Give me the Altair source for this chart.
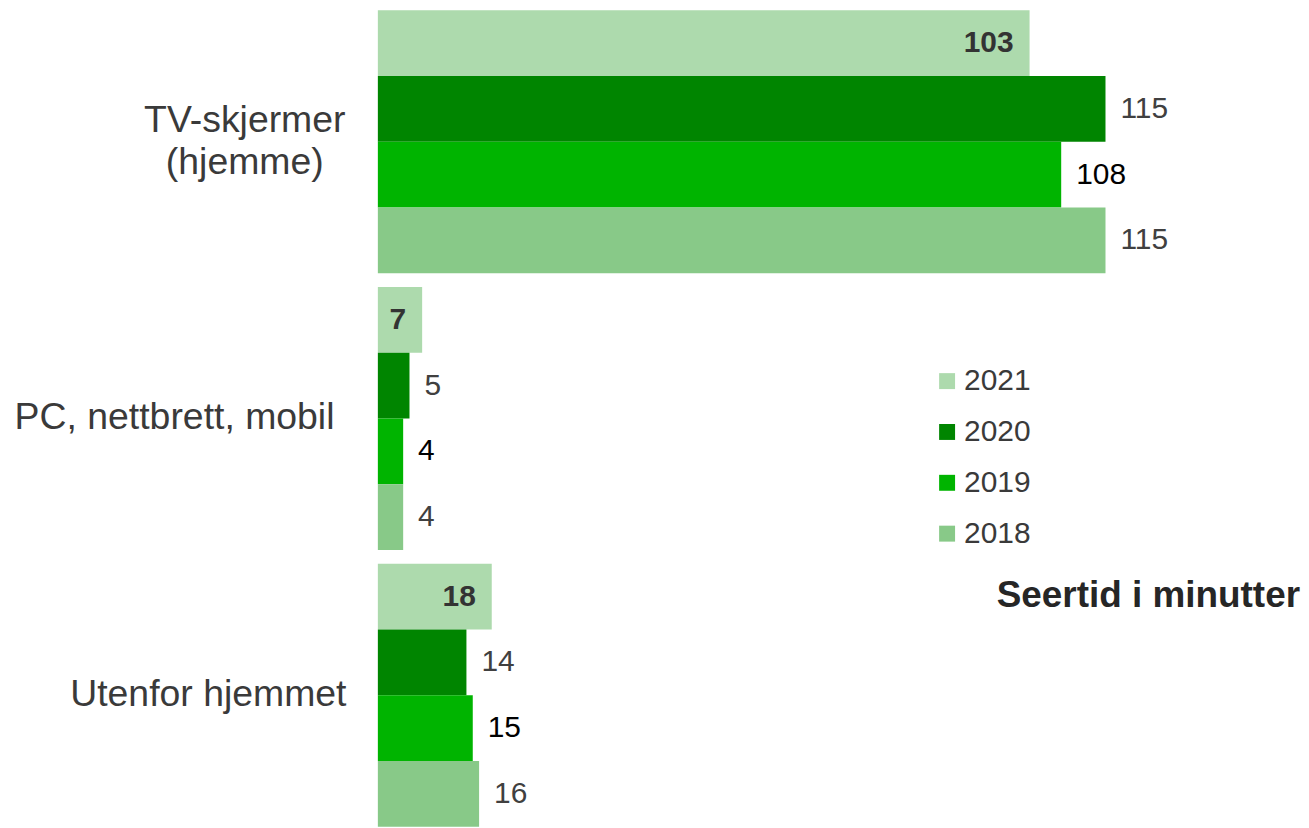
import altair as alt
import pandas as pd

categories = ["TV-skjermer (hjemme)", "PC, nettbrett, mobil", "Utenfor hjemmet"]
years = ["2021", "2020", "2019", "2018"]
values_2021 = [103, 7, 18]
values_2020 = [115, 5, 14]
values_2019 = [108, 4, 15]
values_2018 = [115, 4, 16]
colors = ["#ADDAAD", "#008500", "#00B400", "#88C988"]

series = {"2021": values_2021, "2020": values_2020, "2019": values_2019, "2018": values_2018}
rows = []
for y in years:
    for c, v in zip(categories, series[y]):
        rows.append({"category": c, "year": y, "value": v})
df = pd.DataFrame(rows)

FONT = "Liberation Sans"
TV = "datum.value == 'TV-skjermer (hjemme)'"
PC = "datum.value == 'PC, nettbrett, mobil'"

y_enc = alt.Y(
    "category:N",
    sort=categories,
    scale=alt.Scale(paddingInner=0.05, paddingOuter=0),
    axis=alt.Axis(
        title=None, domain=False, ticks=False, labelFontSize=37.5, labelFont=FONT,
        labelColor="#3a3a3a", labelLineHeight=42, labelLimit=400,
        labelExpr=TV + " ? ['TV-skjermer', '(hjemme)'] : datum.label",
        labelOffset=alt.condition(TV, alt.value(-21), alt.value(0)),
        labelAlign=alt.condition(TV, alt.value("center"), alt.value("right")),
        labelPadding={"condition": [{"test": TV, "value": 134}, {"test": PC, "value": 44}], "value": 32},
    ),
)
yoff = alt.YOffset("year:N", sort=years, scale=alt.Scale(paddingInner=0, paddingOuter=0))
x_enc = alt.X("value:Q", axis=None, scale=alt.Scale(domain=[0, 145.9], nice=False))

base = alt.Chart(df).encode(x=x_enc, y=y_enc, yOffset=yoff)

bars = base.mark_bar(cornerRadius=0).encode(
    color=alt.Color(
        "year:N",
        sort=years,
        scale=alt.Scale(domain=years, range=colors),
        legend=alt.Legend(
            title=None, orient="none", legendX=556, legendY=357,
            symbolType="square", symbolSize=256, symbolStrokeWidth=0,
            labelFontSize=30, labelFont=FONT, labelColor="#3a3a3a",
            labelOffset=2, rowPadding=21,
        ),
    )
)

labels_in = base.transform_filter(alt.datum.year == "2021").mark_text(
    align="right", baseline="middle", dx=-16, fontSize=30, font=FONT,
    fontWeight="bold", color="#333333",
).encode(text="value:Q")

labels_out = base.transform_filter(alt.datum.year != "2021").mark_text(
    align="left", baseline="middle", dx=15, fontSize=30, font=FONT,
).encode(
    text="value:Q",
    color=alt.condition(alt.datum.year == "2019", alt.value("#000000"), alt.value("#404040")),
)

chart = alt.layer(bars, labels_in, labels_out).properties(
    width=926,
    height=819,
    autosize=alt.AutoSizeParams(type="none"),
    padding={"left": 371, "top": 1, "right": 0, "bottom": 0},
    title=alt.TitleParams(
        "Seertid i minutter", anchor="end", frame="group", orient="top",
        baseline="alphabetic", offset=0, dy=636, dx=-1, fontSize=37, fontWeight="bold",
        font=FONT, color="#262626",
    ),
).configure_view(stroke=None)

chart.save("out.html", embed_options={"renderer": "svg", "actions": False})
